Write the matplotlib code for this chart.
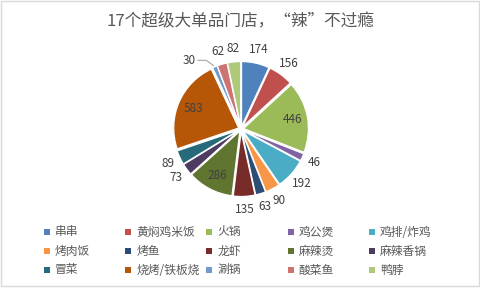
import matplotlib
matplotlib.use('Agg')
import matplotlib.pyplot as plt
from matplotlib.patches import Rectangle
import numpy as np

plt.rcParams['font.family'] = ['Noto Sans CJK SC', 'DejaVu Sans']

categories = ['串串', '黄焖鸡米饭', '火锅', '鸡公煲', '鸡排/炸鸡',
              '烤肉饭', '烤鱼', '龙虾', '麻辣烫', '麻辣香锅',
              '冒菜', '烧烤/铁板烧', '涮锅', '酸菜鱼', '鸭脖']
values = [174, 156, 446, 46, 192, 90, 63, 135, 286, 73, 89, 583, 30, 62, 82]
colors = ['#4F81BD', '#C0504D', '#9BBB59', '#8064A2', '#4BACC6',
          '#F79646', '#2C4D75', '#772C2A', '#5F7530', '#4D3B62',
          '#276A7C', '#B65708', '#729ACA', '#CD7371', '#AFC97A']
inside_labels = ['火锅', '麻辣烫', '烧烤/铁板烧']
title = '17个超级大单品门店，“辣”不过瘾'

W, H = 481, 289
fig = plt.figure(figsize=(W / 100, H / 100), dpi=100)
fig.patch.set_facecolor('white')
ax = fig.add_axes([0, 0, 1, 1])

cx, cy = 241, H - 129
R = 65
EXP = 2.5
wedges, _ = ax.pie(values, colors=colors, startangle=90, counterclock=False,
                   center=(cx, cy), radius=R, explode=[EXP] * len(values),
                   wedgeprops=dict(linewidth=0.9, edgecolor='white'))
ax.set_xlim(0, W)
ax.set_ylim(0, H)
ax.set_aspect('auto')
ax.axis('off')

lab_color = '#404040'
for w, v, name in zip(wedges, values, categories):
    th = np.deg2rad((w.theta1 + w.theta2) / 2)
    if name in inside_labels:
        r = 52
    else:
        r = 81
    if name == '涮锅':
        # small slice label pulled aside with a leader line
        th_l = np.deg2rad(127)
        lx, ly = cx + 86 * np.cos(th_l), cy + 86 * np.sin(th_l)
        ex, ey = cx + (R + EXP) * np.cos(th), cy + (R + EXP) * np.sin(th)
        ax.plot([lx + 8, lx + 17, ex - 1], [ly, ly, ey + 1], color='#A6A6A6',
                lw=0.8, solid_capstyle='butt')
    else:
        lx, ly = cx + r * np.cos(th), cy + r * np.sin(th)
    ax.text(lx, ly, str(v), ha='center', va='center', fontsize=8.5,
            color=lab_color)

ax.text(W / 2 + 0, H - 22, title, ha='center', va='center', fontsize=12,
        color='#595959')

# legend (5 columns, row-major order)
row_y = [232, 251, 270]
x0, step = 47, 81.2
for i, (name, c) in enumerate(zip(categories, colors)):
    row, col = divmod(i, 5)
    mx = x0 + col * step
    my = H - row_y[row]
    ax.add_patch(Rectangle((mx - 3, my - 3), 6, 6, facecolor=c, edgecolor='none'))
    ax.text(mx + 8, my, name, ha='left', va='center', fontsize=8.5,
            color='#595959')

# outer frame
ax.add_patch(Rectangle((0.5, H - 286), 479, 285.5, fill=False,
                       edgecolor='#D9D9D9', lw=1))

fig.savefig('out.png', dpi=100)
